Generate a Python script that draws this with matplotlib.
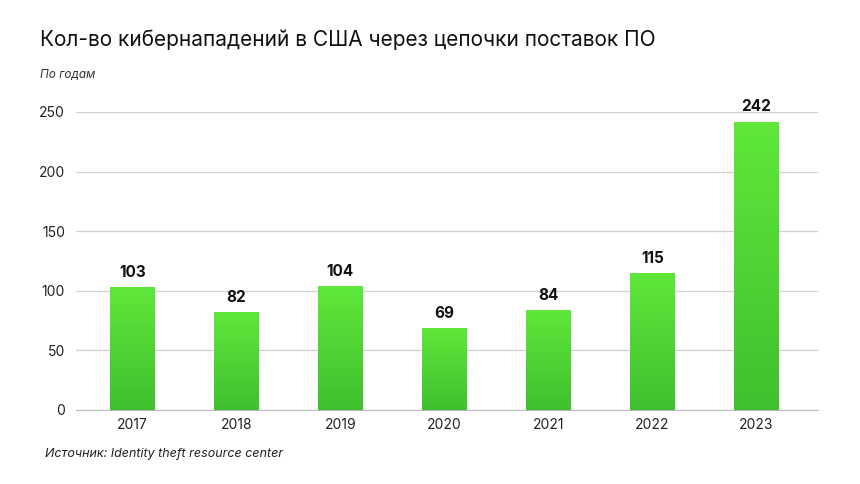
import numpy as np
import matplotlib
matplotlib.use("Agg")
import matplotlib.pyplot as plt
from matplotlib.colors import LinearSegmentedColormap

plt.rcParams['font.family'] = ['Inter', 'DejaVu Sans']

years = ['2017', '2018', '2019', '2020', '2021', '2022', '2023']
attacks = [103, 82, 104, 69, 84, 115, 242]
yticks = [0, 50, 100, 150, 200, 250]

fig = plt.figure(figsize=(8.6, 4.84), dpi=100)
ax = fig.add_axes([0.0884, 0.1529, 0.8626, 0.6157])

x = np.arange(len(years))
bars = ax.bar(x, attacks, width=0.43, color='none', zorder=3)

# vertical green gradient inside each bar
cmap = LinearSegmentedColormap.from_list('g', ['#3fc02e', '#5fe83a'])
grad = np.linspace(0, 1, 256).reshape(-1, 1)
for b in bars:
    x0, w, h = b.get_x(), b.get_width(), b.get_height()
    im = ax.imshow(grad, cmap=cmap, origin='lower', aspect='auto',
                   extent=[x0, x0 + w, 0, h], zorder=3)
    im.set_clip_path(b)

for xi, v in zip(x, attacks):
    ax.text(xi, v + 6, str(v), ha='center', va='bottom', fontsize=11,
            fontweight='bold', color='#111111', clip_on=False)

ax.set_xlim(-0.54, 6.59)
ax.set_ylim(0, 250)
ax.set_yticks(yticks)
ax.set_xticks(x)
ax.set_xticklabels(years)
ax.grid(axis='y', color='#cdd3d3', linewidth=0.9, zorder=0)
for s in ['top', 'right', 'left']:
    ax.spines[s].set_visible(False)
ax.spines['bottom'].set_color('#b8bebe')
ax.tick_params(axis='both', length=0, labelsize=10, colors='#222222')
ax.tick_params(axis='y', pad=8)
ax.tick_params(axis='x', pad=6)

fig.text(0.047, 0.918, 'Кол-во кибернападений в США через цепочки поставок ПО',
         fontsize=15, color='#111111', va='center')
fig.text(0.047, 0.845, 'По годам', fontsize=8.5, style='italic',
         color='#333333', va='center')
fig.text(0.052, 0.063, 'Источник: Identity theft resource center', fontsize=9,
         style='italic', color='#222222', va='center')

fig.savefig('out.png', dpi=100)
